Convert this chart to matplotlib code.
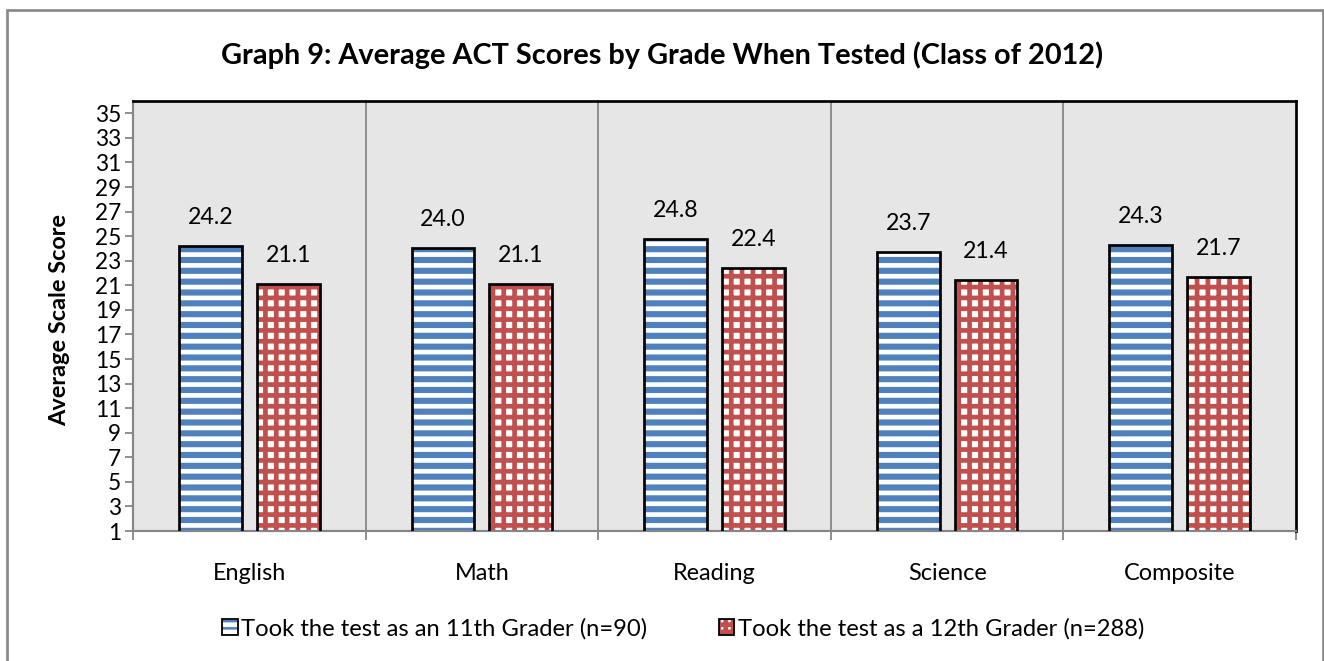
import matplotlib
matplotlib.use("Agg")
import matplotlib.pyplot as plt
import numpy as np
from matplotlib.patches import Patch, Rectangle
from matplotlib.legend_handler import HandlerTuple

categories = ["English", "Math", "Reading", "Science", "Composite"]
grade11 = [24.2, 24.0, 24.8, 23.7, 24.3]
grade12 = [21.1, 21.1, 22.4, 21.4, 21.7]
series_labels = ["Took the test as an 11th Grader (n=90)",
                 "Took the test as a 12th Grader (n=288)"]
yticks = list(range(1, 36, 2))

BLUE = "#4F81BD"
RED = "#C0504D"
GRID = "#868686"

plt.rcParams["font.family"] = ["Lato", "DejaVu Sans"]
plt.rcParams["hatch.linewidth"] = 2.6

DPI = 130
fig = plt.figure(figsize=(1324 / DPI, 661 / DPI), dpi=DPI)
ax = fig.add_axes([133 / 1324, 1 - 531 / 661, 1163 / 1324, 430 / 661])
ax.set_facecolor("#E6E6E6")

x = np.arange(len(categories))
w = 0.27
off = 0.167

# blue: white stripes over blue face; red: red grid over white face
ax.bar(x - off, grade11, w, facecolor=BLUE, edgecolor="white", linewidth=0,
       hatch="--", zorder=2)
ax.bar(x - off, grade11, w, fill=False, edgecolor="black", linewidth=1.5, zorder=3)
ax.bar(x + off, grade12, w, facecolor="white", edgecolor=RED, linewidth=0,
       hatch="++", zorder=2)
ax.bar(x + off, grade12, w, fill=False, edgecolor="black", linewidth=1.5, zorder=3)

for xi, v in zip(x - off, grade11):
    ax.annotate(f"{v:.1f}", (xi, v), xytext=(0, 10), textcoords="offset points",
                ha="center", va="bottom", fontsize=12.8)
for xi, v in zip(x + off, grade12):
    ax.annotate(f"{v:.1f}", (xi, v), xytext=(0, 10), textcoords="offset points",
                ha="center", va="bottom", fontsize=12.8)

ax.set_xlim(-0.5, len(categories) - 0.5)
ax.set_ylim(1, 36)
ax.set_yticks(yticks)
ax.tick_params(axis="y", labelsize=12.5, length=4.5, width=1, color=GRID, pad=2)
ax.set_xticks(x)
ax.set_xticklabels(categories)
ax.set_xticks(np.arange(-0.5, len(categories)), minor=True)
ax.tick_params(axis="x", which="major", length=0, labelsize=13, pad=18)
ax.tick_params(axis="x", which="minor", length=5, width=1, color=GRID)

for b in np.arange(0.5, len(categories) - 0.5):
    ax.axvline(b, color=GRID, linewidth=1, zorder=1)

ax.spines["left"].set_color(GRID)
ax.spines["bottom"].set_color(GRID)
ax.spines["left"].set_linewidth(1.2)
ax.spines["bottom"].set_linewidth(1.2)
ax.spines["top"].set_linewidth(1.5)
ax.spines["right"].set_linewidth(1.5)

ax.set_ylabel("Average Scale Score", fontsize=13, fontweight="bold")
ax.yaxis.set_label_coords(-0.054, 0.49)

fig.text(0.5, 1 - 55 / 661, "Graph 9: Average ACT Scores by Grade When Tested (Class of 2012)",
         ha="center", va="center", fontsize=16, fontweight="bold")

# legend handles: hatched patch with a black outline on top
h1 = Patch(facecolor=BLUE, edgecolor="white", hatch="---", linewidth=0)
h2 = Patch(facecolor="white", edgecolor=RED, hatch="+++", linewidth=0)
o1 = Patch(fill=False, edgecolor="black", linewidth=1)
o2 = Patch(fill=False, edgecolor="black", linewidth=1)
fig.legend([(h1, o1), (h2, o2)], series_labels, loc="center",
           bbox_to_anchor=(0.516, 1 - 629 / 661), ncol=2, frameon=False,
           fontsize=13.2, handlelength=0.65, handleheight=0.65, handletextpad=0.15,
           columnspacing=3.0, handler_map={tuple: HandlerTuple(ndivide=1)})

fig.patches.append(Rectangle((6.5 / 1324, -0.05), (1323 - 6.5) / 1324, 1.05 - 10.5 / 661,
                             transform=fig.transFigure, fill=False,
                             edgecolor="#898989", linewidth=1.5))

fig.savefig("out.png", dpi=DPI)
